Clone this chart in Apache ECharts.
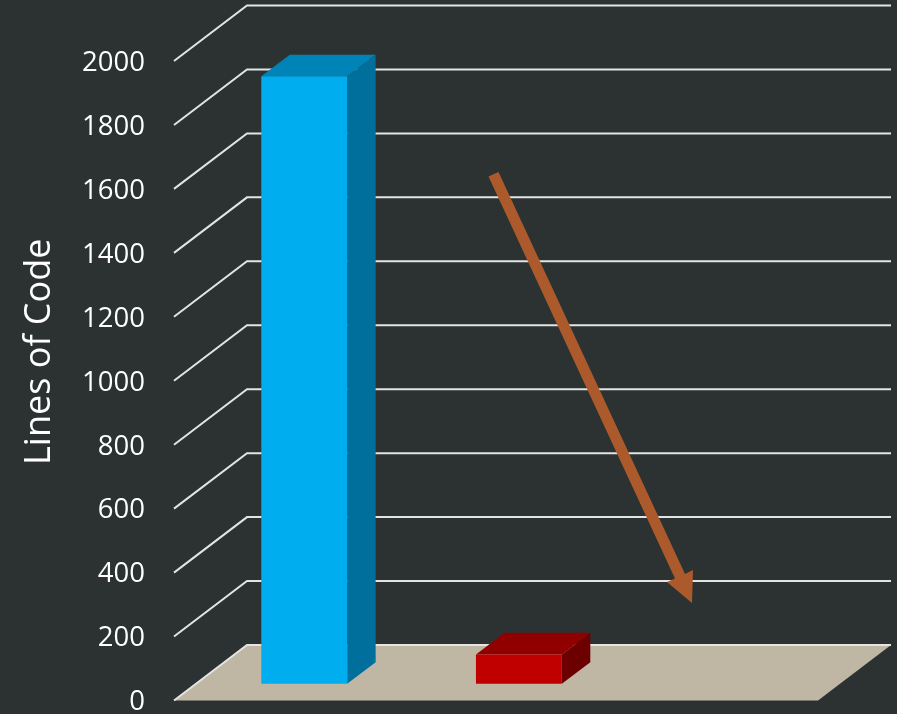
<!DOCTYPE html>
<html><head><meta charset="utf-8">
<style>html,body{margin:0;padding:0;background:#2c3232;overflow:hidden}#c{width:897px;height:714px}</style>
<script src="https://cdn.jsdelivr.net/npm/echarts@6/dist/echarts.min.js"></script>
</head><body><div id="c"></div>
<script>
const categories = ['1', '2', '3'];
const barValues = [1900, 92];
const barColors = [
  {front: '#00adef', top: '#0083b6', side: '#006f9b'},
  {front: '#c00000', top: '#900000', side: '#6c0000'}
];
const yMin = 0, yMax = 2000, yStep = 200;
const yTicks = [0,200,400,600,800,1000,1200,1400,1600,1800,2000];
const depthX = 73, depthY = 55.5;

const chart = echarts.init(document.getElementById('c'), null, {renderer: 'canvas'});

function wallItem(params, api) {
  const cs = params.coordSys, y = api.coord([0, api.value(1)])[1];
  const style = {stroke: '#e4e4e4', lineWidth: 2, fill: 'none'};
  return {type: 'polyline', shape: {points: [[cs.x, y], [cs.x + depthX, y - depthY], [cs.x + cs.width + depthX, y - depthY]]}, style};
}
function floorItem(params, api) {
  const cs = params.coordSys, y = api.coord([0, yMin])[1];
  return {type: 'polygon', shape: {points: [[cs.x, y], [cs.x + cs.width, y], [cs.x + cs.width + depthX, y - depthY], [cs.x + depthX, y - depthY]]},
    style: {fill: '#bfb7a4'}};
}
function barItem(params, api) {
  const idx = api.value(0), c = api.coord([idx, api.value(1)]), b = api.coord([idx, yMin]);
  const band = api.size([1, 0])[0], w = band * 0.4;
  const ox = depthX * 0.3, oy = depthY * 0.3, dx = depthX * 0.39, dy = depthY * 0.39;
  const l = c[0] + ox - w / 2 + 1, r = l + w, t = c[1] - oy, bt = b[1] - oy;
  const col = barColors[params.dataIndex];
  const poly = (points, fill) => ({type: 'polygon', shape: {points}, style: {fill}});
  return {type: 'group', children: [
    poly([[r, t], [r + dx, t - dy], [r + dx, bt - dy], [r, bt]], col.side),
    poly([[l, t], [r, t], [r + dx, t - dy], [l + dx, t - dy]], col.top),
    poly([[l, t], [r, t], [r, bt], [l, bt]], col.front)
  ]};
}

chart.setOption({
  animation: false,
  backgroundColor: '#2c3232',
  grid: {left: 174, right: 79, top: 61, bottom: 13.5, outerBoundsMode: 'none'},
  xAxis: {type: 'category', data: categories, axisLine: {show: false}, axisTick: {show: false}, axisLabel: {show: false}, splitLine: {show: false}},
  yAxis: {
    type: 'value', min: yMin, max: yMax, interval: yStep,
    name: 'Lines of Code', nameLocation: 'middle', nameGap: 116, nameRotate: 90,
    nameTextStyle: {color: '#fff', fontFamily: 'Open Sans', fontSize: 36, padding: [0, 0, 0, 58]},
    axisLine: {show: false}, axisTick: {show: false}, splitLine: {show: false},
    axisLabel: {color: '#fff', fontFamily: 'Open Sans', fontSize: 27.5, margin: 29, verticalAlign: 'top', lineHeight: 4, formatter: v => String(v)}
  },
  series: [
    {type: 'custom', silent: true, renderItem: floorItem, data: [[0, yMin]], encode: {x: 0, y: 1}, z: 1},
    {type: 'custom', silent: true, renderItem: wallItem, data: yTicks.map(v => [0, v]), encode: {x: 0, y: 1}, z: 2},
    {type: 'custom', silent: true, renderItem: barItem, data: barValues.map((v, i) => [i, v]), encode: {x: 0, y: 1}, z: 3}
  ],
  graphic: [{
    type: 'polygon', z: 10, silent: true,
    shape: {points: [[488.5,176.5],[498.5,172],[685,574],[693,570],[692,603],[667,582],[675,578.5]]},
    style: {fill: '#ac5a2c'}
  }]
});
</script></body></html>
